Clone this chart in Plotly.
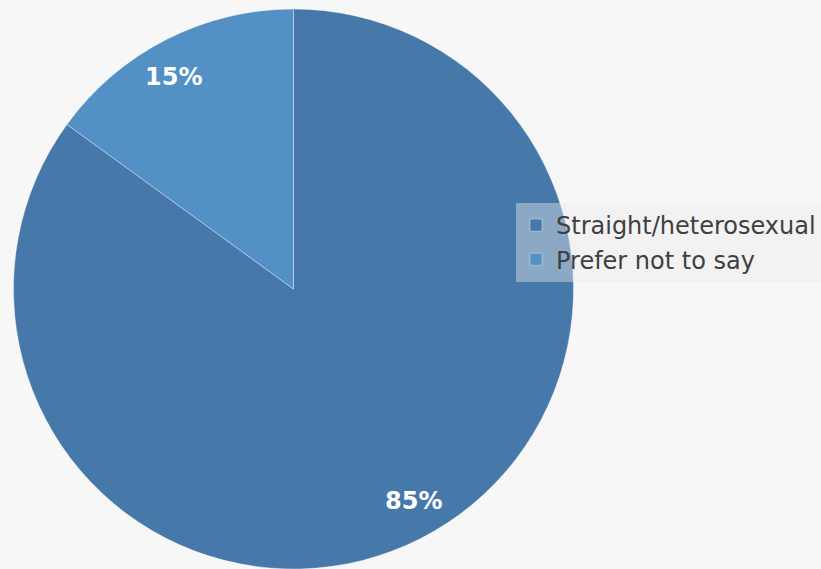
import math
import plotly.graph_objects as go

categories = ["Straight/heterosexual", "Prefer not to say"]
values = [85, 15]
colors = ["#4679aa", "#5390c6"]

W, H = 821, 569
MT = 9
DOMAIN_X = [0, 0.715]
LABEL_R = 0.87          # radial position of the percentage labels (fraction of radius)
LABEL_ANGLE_SHIFT = -2.5  # degrees

fig = go.Figure(go.Pie(
    labels=categories,
    values=values,
    sort=False,
    direction="clockwise",
    rotation=0,
    marker=dict(colors=colors, line=dict(color="rgba(255,255,255,0.35)", width=1)),
    textinfo="none",
    domain=dict(x=DOMAIN_X, y=[0, 1]),
    hoverinfo="label+percent",
))

plot_h = H - MT
cx = (DOMAIN_X[0] + DOMAIN_X[1]) / 2 * W
cy = MT + plot_h / 2
r = min((DOMAIN_X[1] - DOMAIN_X[0]) * W, plot_h) / 2
total = sum(values)
cum = 0
for v in values:
    mid = math.radians((cum + v / 2) / total * 360 + LABEL_ANGLE_SHIFT)
    cum += v
    px = cx + LABEL_R * r * math.sin(mid)
    py = cy - LABEL_R * r * math.cos(mid)
    fig.add_annotation(
        x=px / W, y=(H - py) / plot_h, xref="paper", yref="paper",
        xanchor="center", yanchor="middle",
        text=f"{round(v / total * 100)}%", showarrow=False,
        font=dict(family="DejaVu Sans", size=24, color="white", weight="bold"),
    )

fig.update_layout(
    width=W, height=H,
    margin=dict(l=0, r=0, t=MT, b=0),
    paper_bgcolor="#f7f7f7",
    plot_bgcolor="#f7f7f7",
    font=dict(family="DejaVu Sans", color="#404040"),
    legend=dict(
        x=1, y=(H - 203) / plot_h, xanchor="right", yanchor="top",
        bgcolor="rgba(236,236,236,0.42)",
        font=dict(size=24, color="#404040"),
        itemwidth=30,
    ),
    showlegend=True,
)

fig.write_html("out.html", config={"displayModeBar": False},
               post_script=("document.body.style.margin='0';"
                            "document.body.style.padding='0';"
                            "document.body.style.overflow='hidden';"
                            "document.documentElement.style.overflow='hidden';"
                            "document.body.style.background='#f7f7f7';"))
